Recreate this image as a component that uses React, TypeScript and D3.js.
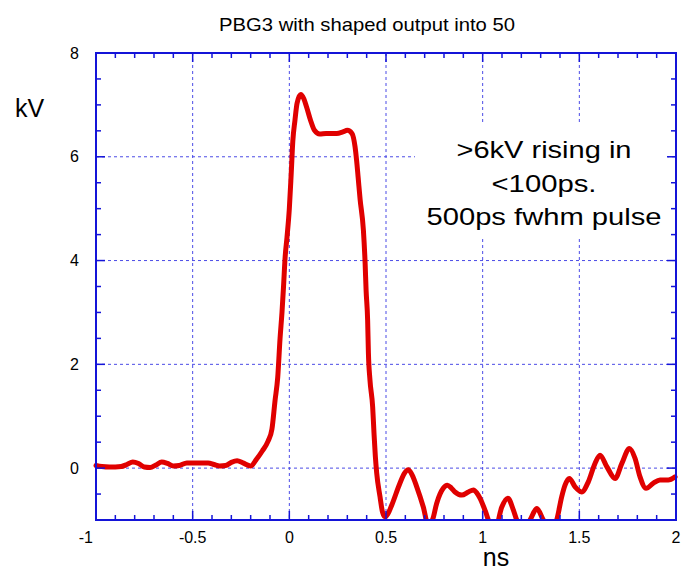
import React from "react";
import * as d3 from "d3";

const timeNs: number[] = [
  -1.0, -0.97, -0.93, -0.87, -0.84, -0.81, -0.78, -0.75, -0.72, -0.69, -0.66, -0.63, -0.6, -0.57, -0.53,
  -0.48, -0.42, -0.39, -0.36, -0.33, -0.3, -0.27, -0.24, -0.2, -0.17, -0.14, -0.11, -0.09, -0.074, -0.06,
  -0.048, -0.038, -0.03, -0.022, -0.012, 0.0, 0.01, 0.018, 0.029, 0.04, 0.059, 0.075, 0.09, 0.11, 0.13,
  0.157, 0.19, 0.245, 0.277, 0.3, 0.324, 0.34, 0.348, 0.356, 0.366, 0.383, 0.392, 0.397, 0.405, 0.409,
  0.417, 0.431, 0.438, 0.445, 0.452, 0.469, 0.482, 0.495, 0.51, 0.53, 0.572, 0.595, 0.615, 0.635, 0.659,
  0.693, 0.717, 0.74, 0.762, 0.796, 0.817, 0.837, 0.857, 0.892, 0.926, 0.952, 0.97, 0.986, 1.012, 1.06,
  1.099, 1.13, 1.159, 1.176, 1.21, 1.245, 1.28, 1.314, 1.35, 1.383, 1.409, 1.426, 1.448, 1.478, 1.512,
  1.547, 1.581, 1.607, 1.642, 1.685, 1.72, 1.759, 1.788, 1.814, 1.845, 1.883, 1.917, 1.96, 1.995,
];
const voltageKV: number[] = [
  0.05, 0.03, 0.02, 0.03, 0.07, 0.12, 0.09, 0.02, 0.01, 0.06, 0.12, 0.09, 0.04, 0.05, 0.1,
  0.1, 0.1, 0.07, 0.04, 0.05, 0.11, 0.14, 0.1, 0.04, 0.17, 0.33, 0.52, 0.75, 1.3, 1.75,
  2.5, 3.0, 3.5, 4.05, 4.45, 5.0, 5.7, 6.3, 6.7, 7.03, 7.2, 7.12, 6.95, 6.7, 6.51,
  6.44, 6.45, 6.45, 6.48, 6.51, 6.45, 6.19, 5.93, 5.6, 5.18, 4.59, 3.95, 3.43, 2.85, 2.22,
  1.7, 1.18, 0.67, 0.22, -0.1, -0.55, -0.85, -0.94, -0.88, -0.71, -0.29, -0.1, -0.03, -0.13, -0.36,
  -0.75, -1.08, -1.0, -0.68, -0.39, -0.33, -0.38, -0.46, -0.52, -0.46, -0.42, -0.48, -0.58, -0.81, -1.25,
  -0.75, -0.58, -0.81, -1.0, -1.2, -1.0, -0.78, -1.0, -1.2, -1.0, -0.55, -0.33, -0.2, -0.36, -0.46,
  -0.26, 0.09, 0.25, 0.03, -0.2, 0.09, 0.38, 0.19, -0.17, -0.39, -0.29, -0.23, -0.23, -0.17,
];

const xMajorTicks: number[] = [-1, -0.5, 0, 0.5, 1, 1.5, 2];
const xTickLabels: string[] = ["-1", "-0.5", "0", "0.5", "1", "1.5", "2"];
const yMajorTicks: number[] = [0, 2, 4, 6, 8];
const yTickLabels: string[] = ["0", "2", "4", "6", "8"];
const titleText = "PBG3 with shaped output into 50";
const xAxisLabel = "ns";
const yAxisLabel = "kV";
const noteLines: string[] = [">6kV rising in", "<100ps.", "500ps fwhm pulse"];

const W = 688;
const H = 573;
const L = 96, R = 676, T = 53, B = 520;
const FONT = "'Liberation Sans', Arial, Helvetica, sans-serif";
const AXIS = "#1414d8";
const GRID = "#4b4be6";
const RED = "#e00000";

export default function App() {
  const x = d3.scaleLinear().domain([-1, 2]).range([L, R]);
  const y = d3.scaleLinear().domain([-1, 8]).range([B, T]);
  const pts: [number, number][] = timeNs.map((t, i) => [t, voltageKV[i]]);
  const line = d3
    .line<[number, number]>()
    .x((d) => x(d[0]))
    .y((d) => y(d[1]))
    .curve(d3.curveMonotoneX);

  const xMinor = d3.range(-10, 21).map((v) => v / 10).filter((v) => Math.abs(v * 2 - Math.round(v * 2)) > 1e-6);
  const yMinor = d3.range(-2, 17).map((v) => v / 2).filter((v) => Math.abs(v / 2 - Math.round(v / 2)) > 1e-6);
  const gridX = xMajorTicks.filter((v) => v > -1 && v < 2);
  const gridY = yMajorTicks.filter((v) => v > -1 && v < 8);
  const lineH = 33.5;

  return (
    <svg width={W} height={H} style={{ position: "absolute", left: 0, top: 0, background: "#fff" }}>
      <defs>
        <clipPath id="plotClip">
          <rect x={L - 6} y={T - 6} width={R - L + 12} height={B - T + 6} />
        </clipPath>
      </defs>
      <rect x={0} y={0} width={W} height={H} fill="#fff" />
      {gridX.map((v) => (
        <line key={"gx" + v} x1={x(v)} x2={x(v)} y1={T} y2={B} stroke={GRID} strokeWidth={1} strokeDasharray="3,3" />
      ))}
      {gridY.map((v) => (
        <line key={"gy" + v} x1={L} x2={R} y1={y(v)} y2={y(v)} stroke={GRID} strokeWidth={1} strokeDasharray="3,3" />
      ))}
      <rect x={415} y={123} width={253} height={113} fill="#fff" />
      <path
        d={line(pts) || ""}
        fill="none"
        stroke={RED}
        strokeWidth={5}
        strokeLinejoin="round"
        strokeLinecap="round"
        clipPath="url(#plotClip)"
      />
      <rect x={L} y={T} width={R - L} height={B - T} fill="none" stroke={AXIS} strokeWidth={2} />
      {xMinor.map((v) => (
        <g key={"xm" + v}>
          <line x1={x(v)} x2={x(v)} y1={B} y2={B - 5} stroke={AXIS} strokeWidth={1.5} />
          <line x1={x(v)} x2={x(v)} y1={T} y2={T + 5} stroke={AXIS} strokeWidth={1.5} />
        </g>
      ))}
      {xMajorTicks.map((v) => (
        <g key={"xM" + v}>
          <line x1={x(v)} x2={x(v)} y1={B} y2={B - 9} stroke={AXIS} strokeWidth={1.5} />
          <line x1={x(v)} x2={x(v)} y1={T} y2={T + 9} stroke={AXIS} strokeWidth={1.5} />
        </g>
      ))}
      {yMinor.map((v) => (
        <g key={"ym" + v}>
          <line x1={L} x2={L + 5} y1={y(v)} y2={y(v)} stroke={AXIS} strokeWidth={1.5} />
          <line x1={R} x2={R - 5} y1={y(v)} y2={y(v)} stroke={AXIS} strokeWidth={1.5} />
        </g>
      ))}
      {yMajorTicks.map((v) => (
        <g key={"yM" + v}>
          <line x1={L} x2={L + 9} y1={y(v)} y2={y(v)} stroke={AXIS} strokeWidth={1.5} />
          <line x1={R} x2={R - 9} y1={y(v)} y2={y(v)} stroke={AXIS} strokeWidth={1.5} />
        </g>
      ))}
      {xMajorTicks.map((v, i) => (
        <text
          key={"xl" + v}
          x={i === 0 ? x(v) - 3 : x(v)}
          y={543}
          textAnchor={i === 0 ? "end" : "middle"}
          fontFamily={FONT}
          fontSize={16}
          fill="#000"
        >
          {xTickLabels[i]}
        </text>
      ))}
      {yMajorTicks.map((v, i) => (
        <text key={"yl" + v} x={79} y={y(v) + 5.5} textAnchor="end" fontFamily={FONT} fontSize={16} fill="#000">
          {yTickLabels[i]}
        </text>
      ))}
      <text x={367} y={31} textAnchor="middle" fontFamily={FONT} fontSize={19} textLength={296} lengthAdjust="spacingAndGlyphs">
        {titleText}
      </text>
      <text x={15} y={117} fontFamily={FONT} fontSize={25}>
        {yAxisLabel}
      </text>
      <text x={496} y={566} textAnchor="middle" fontFamily={FONT} fontSize={25}>
        {xAxisLabel}
      </text>
      {noteLines.map((s, i) => (
        <text
          key={"n" + i}
          x={544}
          y={158 + i * lineH}
          textAnchor="middle"
          fontFamily={FONT}
          fontSize={24}
          textLength={[175, 105, 235][i]}
          lengthAdjust="spacingAndGlyphs"
        >
          {s}
        </text>
      ))}
    </svg>
  );
}
